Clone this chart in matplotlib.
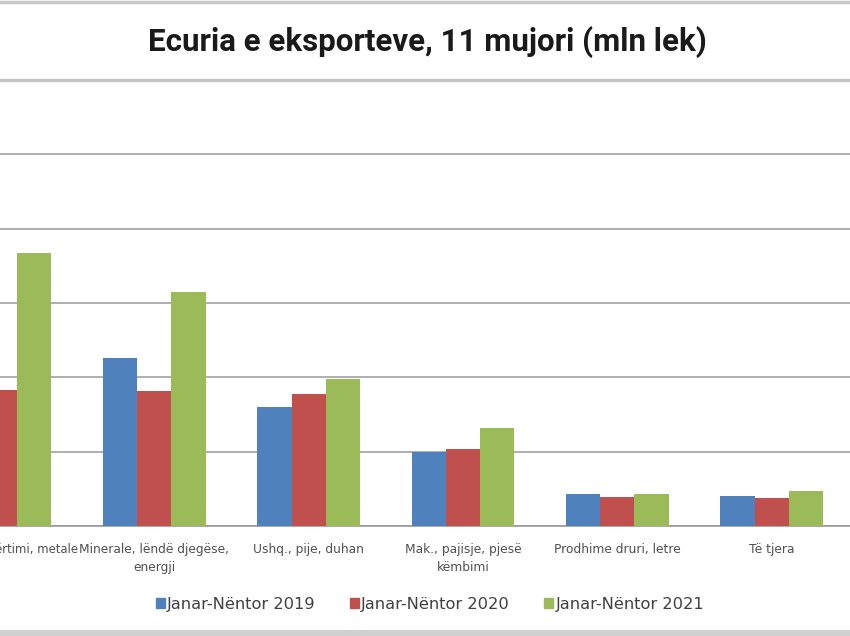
import numpy as np
import matplotlib
matplotlib.use("Agg")
import matplotlib.pyplot as plt
from matplotlib.lines import Line2D
from matplotlib.patches import Rectangle

# Data (mln lek); the first category is cut at the left edge
categories = [
    "Materiale ndërtimi, metale",
    "Minerale, lëndë djegëse,\nenergji",
    "Ushq., pije, duhan",
    "Mak., pajisje, pjesë\nkëmbimi",
    "Prodhime druri, letre",
    "Të tjera",
]
values_2019 = [41000, 45300, 31900, 19800, 8500, 8100]
values_2020 = [36600, 36300, 35500, 20600, 7700, 7500]
values_2021 = [73400, 62900, 39500, 26300, 8500, 9500]
series_names = ["Janar-Nëntor 2019", "Janar-Nëntor 2020", "Janar-Nëntor 2021"]
series_colors = ["#4F81BD", "#C0504D", "#9BBB59"]

fig = plt.figure(figsize=(8.5, 6.36), dpi=100)

# plot area runs off the left edge, as in the cropped screenshot
ax = fig.add_axes([0.0, 110 / 636, 1.0, 446 / 636])

x = np.arange(len(categories))
bar_w = 0.222
for i, (vals, name, col) in enumerate(zip([values_2019, values_2020, values_2021], series_names, series_colors)):
    ax.bar(x + (i - 1) * bar_w, vals, width=bar_w, color=col, label=name, zorder=3)

ax.set_xlim(7.5 / 155.7, 857.5 / 155.7)
ax.set_ylim(0, 120000)
ax.set_yticks(np.arange(0, 120001, 20000))
ax.yaxis.grid(True, color="#9a9a9a", linewidth=1.1, zorder=0)
ax.tick_params(axis="y", left=False, labelleft=False)
ax.tick_params(axis="x", bottom=False, pad=8.5)
ax.set_xticks(x)
ax.set_xticklabels(categories, fontsize=8.8, color="#505050", linespacing=1.5)
# first label is narrower so only its tail shows, like the cropped original
ax.get_xticklabels()[0].set_fontsize(8.4)

for side in ["left", "right"]:
    ax.spines[side].set_visible(False)
ax.spines["bottom"].set_color("#9a9a9a")
ax.spines["bottom"].set_linewidth(1.2)
ax.spines["top"].set_color("#c4c4c4")
ax.spines["top"].set_linewidth(2.5)

# title box and outer frame
fig.text(427 / 850, 1 - 42 / 636, "Ecuria e eksporteve, 11 mujori (mln lek)",
         ha="center", va="center", fontsize=22.5, color="#1a1a1a",
         family=["Roboto", "DejaVu Sans"], fontweight="bold")
fig.add_artist(Line2D([0, 1], [1 - 2 / 636, 1 - 2 / 636], color="#c8c8c8", linewidth=2.5))
fig.add_artist(Rectangle((0, 0), 1, 6 / 636, color="#d0d0d0", linewidth=0))

handles = [Rectangle((0, 0), 1, 1, color=c) for c in series_colors]
fig.legend(handles, series_names, loc="center", bbox_to_anchor=(430 / 850, 1 - 604 / 636),
           ncol=3, frameon=False, fontsize=11.7, handlelength=0.55, handleheight=0.55,
           handletextpad=0.15, columnspacing=2.1, labelcolor="#404040")

fig.savefig("out.png", dpi=100)
